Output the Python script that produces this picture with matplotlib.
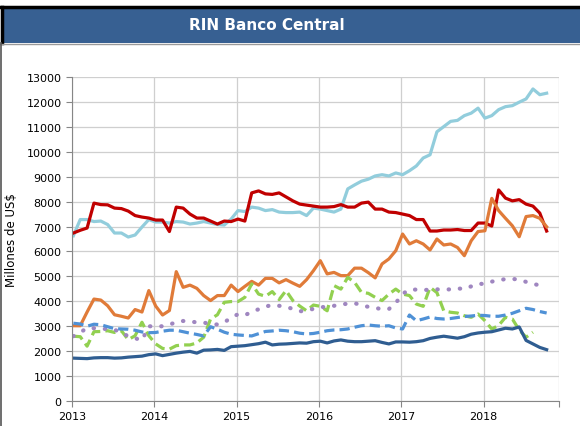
import numpy as np
import matplotlib
matplotlib.use("Agg")
import matplotlib.pyplot as plt
from matplotlib.patches import Rectangle
from matplotlib.lines import Line2D

# monthly data, Jan 2013 - Oct 2018 (millones de US$)
red = [6740, 6850, 6940, 7940, 7880, 7870, 7740, 7720, 7620, 7440,
       7380, 7340, 7260, 7260, 6800, 7780, 7740, 7500, 7340, 7340,
       7220, 7100, 7220, 7200, 7300, 7220, 8350, 8430, 8310, 8290,
       8350, 8190, 8030, 7900, 7860, 7820, 7780, 7780, 7800, 7880,
       7780, 7780, 7940, 7980, 7700, 7700, 7580, 7560, 7500, 7440,
       7280, 7280, 6820, 6820, 6860, 6860, 6880, 6840, 6840, 7140,
       7140, 7020, 8470, 8140, 8030, 8080, 7900, 7820, 7540, 6820]
light_blue = [6630, 7280, 7280, 7200, 7220, 7080, 6740, 6740, 6580, 6660,
              6980, 7280, 7180, 7180, 7140, 7200, 7180, 7100, 7140, 7200,
              7140, 7080, 7060, 7300, 7640, 7600, 7780, 7740, 7640, 7680,
              7580, 7560, 7560, 7580, 7440, 7740, 7700, 7640, 7580, 7700,
              8510, 8670, 8820, 8900, 9030, 9080, 9030, 9150, 9080, 9240,
              9430, 9750, 9880, 10800, 11010, 11220, 11260, 11450, 11550, 11750,
              11350, 11450, 11690, 11810, 11850, 11990, 12120, 12520, 12290, 12350]
orange = [3020, 3020, 3570, 4090, 4050, 3820, 3460, 3400, 3330, 3670,
          3570, 4430, 3810, 3450, 3630, 5190, 4560, 4650, 4520, 4230,
          4030, 4230, 4230, 4650, 4390, 4600, 4800, 4650, 4920, 4920,
          4740, 4870, 4730, 4600, 4870, 5230, 5630, 5100, 5160, 5030,
          5030, 5330, 5330, 5150, 4940, 5500, 5700, 6030, 6700, 6300,
          6430, 6300, 6060, 6500, 6260, 6300, 6160, 5830, 6430, 6800,
          6830, 8130, 7640, 7330, 7030, 6590, 7400, 7440, 7330, 6990]
green = [2600, 2580, 2200, 2780, 2790, 2820, 2750, 2820, 2460, 2620,
         3160, 2620, 2290, 2110, 2080, 2220, 2250, 2250, 2330, 2560,
         3290, 3460, 3960, 3990, 3990, 4160, 4700, 4290, 4200, 4390,
         4070, 4430, 4030, 3810, 3620, 3850, 3800, 3620, 4630, 4490,
         4960, 4760, 4360, 4320, 4160, 4030, 4290, 4490, 4290, 4230,
         3890, 3800, 4560, 4350, 3620, 3560, 3530, 3420, 3360, 3490,
         3220, 2890, 3030, 3360, 3290, 2850, 2560, 2760, np.nan, np.nan]
purple = [2600, 2750, 2930, 2920, 2890, 2890, 2860, 2740, 2600, 2520,
          2430, 3000, 2990, 3000, 3060, 3170, 3210, 3200, 3150, 3150,
          3080, 3070, 3150, 3350, 3480, 3440, 3580, 3680, 3790, 3850,
          3820, 3770, 3700, 3600, 3620, 3700, 3770, 3770, 3820, 3880,
          3900, 3930, 3830, 3780, 3730, 3690, 3690, 3930, 4300, 4470,
          4470, 4440, 4480, 4480, 4470, 4480, 4520, 4490, 4600, 4700,
          4700, 4790, 4850, 4890, 4900, 4870, 4780, 4700, 4640, 4600]
blue_dash = [3120, 3090, 3000, 3080, 3060, 2980, 2900, 2890, 2880, 2840,
             2770, 2740, 2750, 2800, 2840, 2840, 2780, 2720, 2670, 2610,
             2980, 2880, 2760, 2680, 2650, 2630, 2610, 2700, 2790, 2810,
             2840, 2820, 2780, 2720, 2690, 2710, 2760, 2820, 2850, 2860,
             2890, 2960, 3020, 3050, 3020, 3000, 3020, 2930, 2890, 3450,
             3220, 3290, 3370, 3310, 3290, 3310, 3350, 3390, 3410, 3440,
             3430, 3400, 3400, 3450, 3520, 3620, 3720, 3670, 3590, 3530]
dark_blue = [1720, 1710, 1700, 1730, 1740, 1740, 1720, 1730, 1760, 1780,
             1800, 1860, 1890, 1820, 1870, 1920, 1960, 1990, 1920, 2040,
             2050, 2070, 2030, 2180, 2200, 2220, 2260, 2300, 2360, 2250,
             2280, 2290, 2310, 2330, 2320, 2380, 2400, 2330, 2410, 2450,
             2400, 2380, 2380, 2400, 2420, 2350, 2290, 2370, 2370, 2360,
             2380, 2420, 2510, 2560, 2600, 2560, 2520, 2580, 2680, 2730,
             2760, 2780, 2850, 2920, 2890, 2970, 2430, 2290, 2150, 2060]

years = [2013, 2014, 2015, 2016, 2017, 2018]
x = 2013 + (np.arange(len(red)) + 0.2) / 12

fig = plt.figure(figsize=(5.8, 4.27), dpi=100)

# title band with black border on top / left
band_bot = 1 - 44 / 427
band_top = 1 - 8 / 427
fig.patches.append(Rectangle((0.004, band_bot), 1.0, band_top - band_bot,
                             transform=fig.transFigure, facecolor="#376092",
                             edgecolor="none", zorder=0))
fig.lines.append(Line2D([0.0, 1.0], [band_top, band_top], transform=fig.transFigure,
                        color="black", linewidth=2.5))
fig.lines.append(Line2D([0.003, 0.003], [band_bot, band_top], transform=fig.transFigure,
                        color="black", linewidth=2.5))
fig.lines.append(Line2D([0.0, 1.0], [band_bot - 0.002, band_bot - 0.002],
                        transform=fig.transFigure, color="#9a9a9a", linewidth=1.0))
fig.lines.append(Line2D([0.002, 0.002], [0, band_bot], transform=fig.transFigure,
                        color="#555555", linewidth=1.2))
fig.text(0.46, 1 - 26 / 427, "RIN Banco Central", color="white", fontsize=11,
         fontweight="bold", ha="center", va="center")

ax = fig.add_axes([72 / 580, 1 - 402 / 427, (559 - 72) / 580, (402 - 78) / 427])

lw = 2.3
ax.plot(x, light_blue, color="#92CDDC", lw=lw)
ax.plot(x, red, color="#C00000", lw=lw)
ax.plot(x, orange, color="#E07B39", lw=lw)
ax.plot(x, green, color="#92D050", lw=lw, linestyle=(0, (3.2, 1.6)))
ax.plot(x, purple, color="#9F86C0", lw=3.0, linestyle=(0, (0.1, 2.6)),
        dash_capstyle="round")
ax.plot(x, blue_dash, color="#4F91D6", lw=lw, linestyle=(0, (3.2, 1.6)))
ax.plot(x, dark_blue, color="#2F5D91", lw=lw)

ax.set_xlim(2013, 2013 + 71 / 12)
ax.set_ylim(0, 13000)
ax.set_yticks(np.arange(0, 13001, 1000))
ax.set_xticks(years + [2013 + 71 / 12])
ax.set_xticklabels([str(y) for y in years] + [""])
ax.tick_params(labelsize=8, colors="#868686", labelcolor="black", length=4, width=0.8)
ax.grid(True, color="#CFCFCF", linewidth=0.9)
ax.set_axisbelow(True)
for s in ["top", "right"]:
    ax.spines[s].set_visible(False)
for s in ["left", "bottom"]:
    ax.spines[s].set_color("#868686")
ax.set_ylabel("Millones de US$", fontsize=8.5, labelpad=6)

fig.savefig("out.png", dpi=100)
